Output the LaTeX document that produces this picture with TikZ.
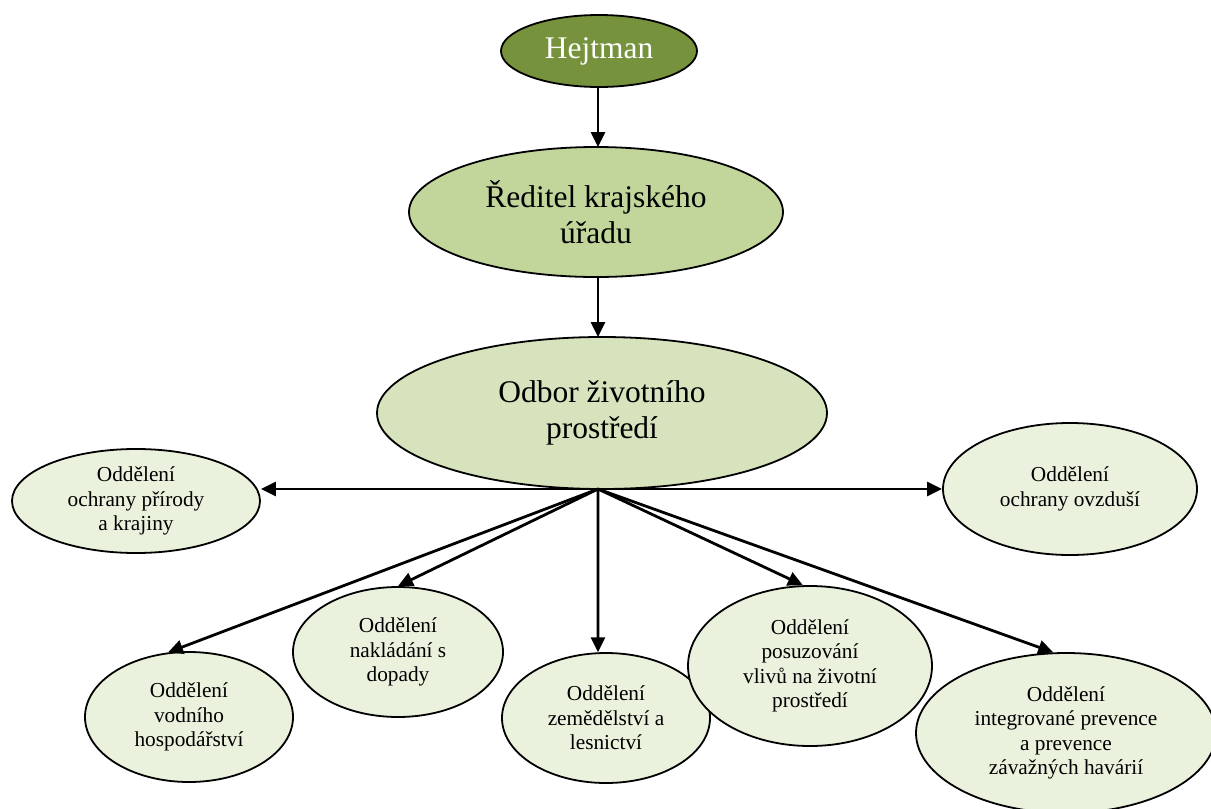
\documentclass[tikz,border=0pt]{standalone}
\usepackage{fontspec}
\setmainfont{Liberation Serif}
\usetikzlibrary{shapes.geometric,arrows.meta}
\definecolor{darkolive}{HTML}{76923C}
\definecolor{olivemid}{HTML}{C2D69B}
\definecolor{olivelight}{HTML}{D6E3BC}
\definecolor{olivepale}{HTML}{EAF1DD}
\tikzset{
  oval/.style={ellipse, draw=black, line width=1.8pt, inner sep=0pt, align=center},
  bigtext/.style={font=\fontsize{31.5}{36}\selectfont},
  smalltext/.style={font=\fontsize{21.3}{24.5}\selectfont},
  topoval/.style={oval, bigtext, fill=darkolive, text=white},
  midoval/.style={oval, bigtext, fill=olivemid},
  deptoval/.style={oval, bigtext, fill=olivelight},
  suboval/.style={oval, smalltext, fill=olivepale},
  link/.style={line width=2.8pt, -{Triangle[length=15pt,width=14pt]}}
}
\begin{document}
\begin{tikzpicture}[x=1pt,y=-1pt]
\useasboundingbox (0,0) rectangle (1211,809);
\node[topoval, minimum width=196pt, minimum height=72pt] (hej) at (599,51) {Hejtman};
\node[midoval, minimum width=374pt, minimum height=130pt] (red) at (596,212) {Ředitel krajského\\úřadu};
\node[deptoval, minimum width=450pt, minimum height=152pt] (odb) at (602,413) {Odbor životního\\prostředí};
\node[suboval, minimum width=248pt, minimum height=104pt] (prir) at (136,501) {Oddělení\\ochrany přírody\\a krajiny};
\node[suboval, minimum width=254pt, minimum height=132pt] (ovz) at (1070,489) {Oddělení\\ochrany ovzduší};
\node[suboval, minimum width=208pt, minimum height=130pt] (vod) at (189,717) {Oddělení\\vodního\\hospodářství};
\node[suboval, minimum width=210pt, minimum height=130pt] (nak) at (398,652) {Oddělení\\nakládání s\\dopady};
\node[suboval, minimum width=208pt, minimum height=130pt] (zem) at (606,718) {Oddělení\\zemědělství a\\lesnictví};
\node[suboval, minimum width=244pt, minimum height=160pt] (pos) at (810,666) {Oddělení\\posuzování\\vlivů na životní\\prostředí};
\node[suboval, minimum width=300pt, minimum height=160pt] (int) at (1066,733) {Oddělení\\integrované prevence\\a prevence\\závažných havárií};
\coordinate (hub) at (598,489);
\coordinate (redtop) at (598,147);
\coordinate (odbtop) at (598,337);
\draw[link] (hej.south -| hub) -- (redtop);
\draw[link] (red.south -| hub) -- (odbtop);
\draw[link] (hub) -- (hub -| prir.east);
\draw[link] (hub) -- (hub -| ovz.west);
\draw[link] (hub) -- (vod.108);
\draw[link] (hub) -- (nak.90);
\draw[link] (hub) -- (zem.97);
\draw[link] (hub) -- (pos.95);
\draw[link] (hub) -- (int.99);
\end{tikzpicture}
\end{document}
